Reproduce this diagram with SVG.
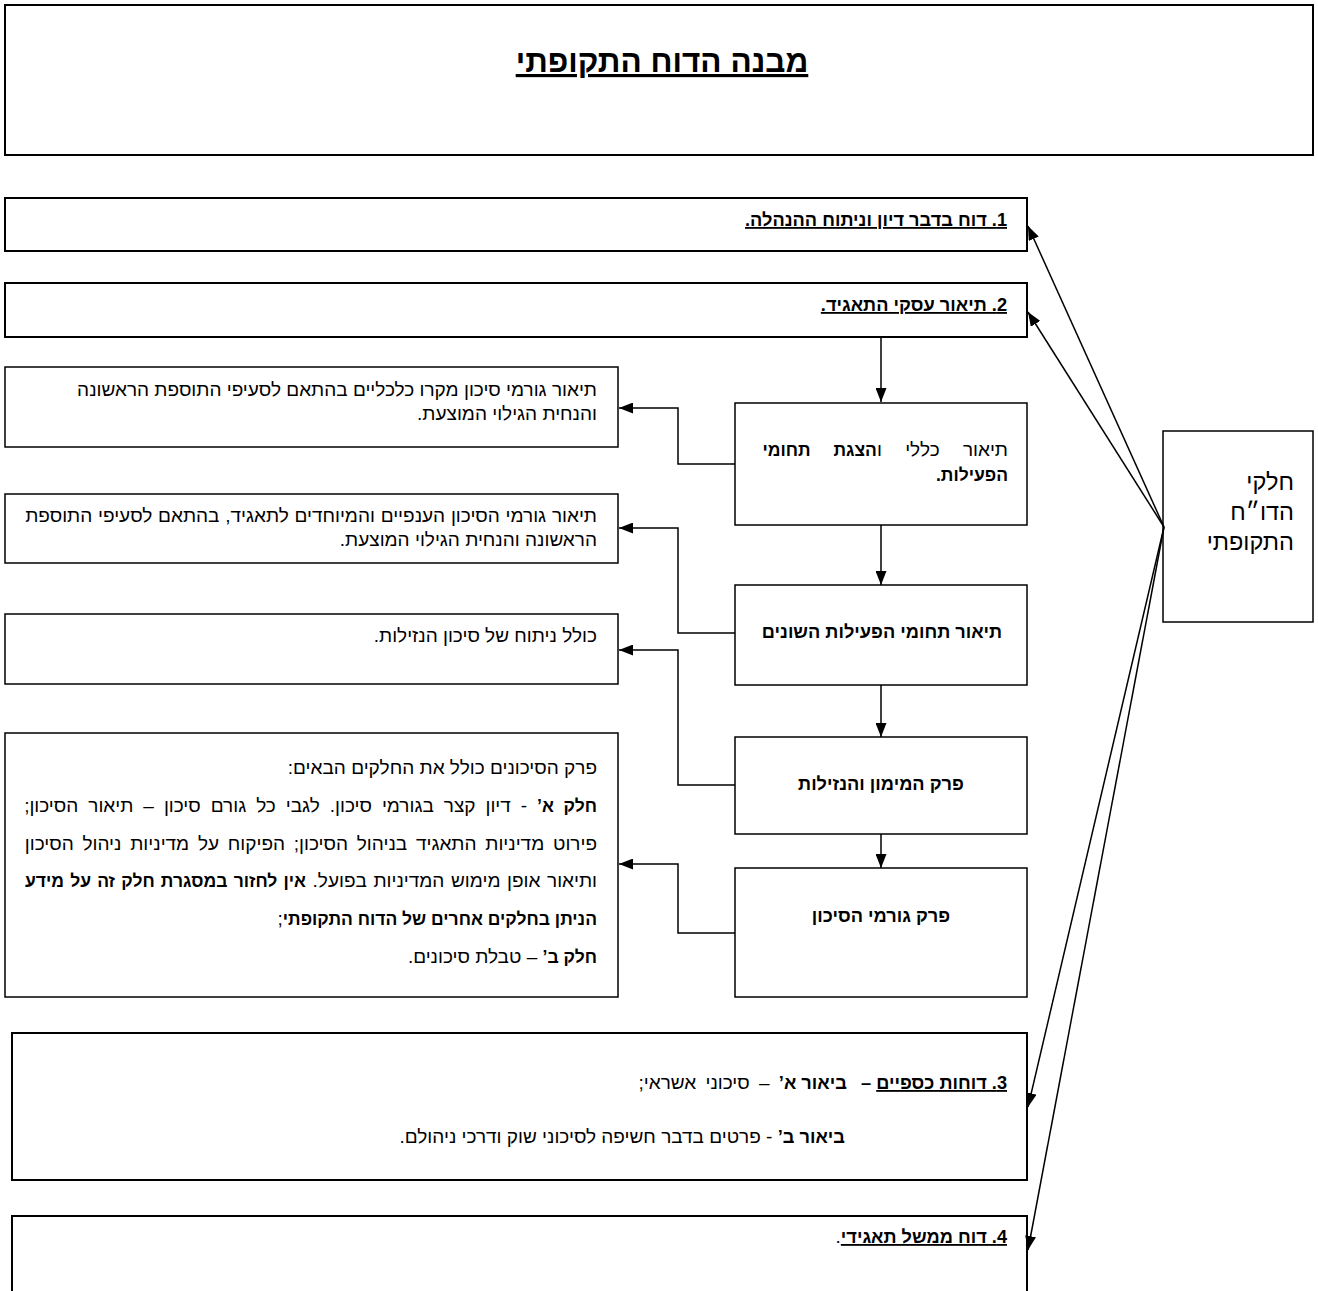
<svg xmlns="http://www.w3.org/2000/svg" width="1318" height="1291" viewBox="0 0 1318 1291">
<defs>
<marker id="ah" markerUnits="userSpaceOnUse" viewBox="0 0 14 11" refX="14" refY="5.5" markerWidth="14" markerHeight="11" orient="auto"><path d="M0,0 L14,5.5 L0,11 z" fill="#000"/></marker>
<style>
.main{fill:#fff;stroke:#000;stroke-width:2}
.box{fill:#fff;stroke:#000;stroke-width:1.5}
text{font-family:"Liberation Sans","DejaVu Sans",sans-serif;font-size:19px;fill:#000;direction:rtl}
.b{font-weight:bold;font-size:17.5px}
.u{text-decoration:underline}
.h{font-weight:bold;font-size:18.2px}
.c{fill:none;stroke:#000;stroke-width:1.5;marker-end:url(#ah)}
</style>
</defs>
<rect width="1318" height="1291" fill="#fff"/>

<g id="title">
<rect class="main" x="5" y="5" width="1308" height="150"/>
<text x="662" y="72" text-anchor="middle" class="h u" style="font-size:31.5px">מבנה הדוח התקופתי</text>
</g>

<g id="part1">
<rect class="main" x="5" y="198" width="1022" height="53"/>
<text x="1007" y="226" class="h u">1. דוח בדבר דיון וניתוח ההנהלה.</text>
</g>

<g id="part2">
<rect class="main" x="5" y="283" width="1022" height="54"/>
<text x="1007" y="311" class="h u">2.  תיאור עסקי התאגיד.</text>
</g>

<g id="general">
<rect class="box" x="735" y="403" width="292" height="122"/>
<text x="1008" y="456" style="word-spacing:18px">תיאור כללי ו<tspan class="b">הצגת תחומי</tspan></text>
<text x="1008" y="481" class="b">הפעילות.</text>
</g>

<g id="areas">
<rect class="box" x="735" y="585" width="292" height="100"/>
<text x="882" y="638" text-anchor="middle" class="h">תיאור תחומי הפעילות השונים</text>
</g>

<g id="finance">
<rect class="box" x="735" y="737" width="292" height="97"/>
<text x="881" y="790" text-anchor="middle" class="h">פרק המימון והנזילות</text>
</g>

<g id="risk">
<rect class="box" x="735" y="868" width="292" height="129"/>
<text x="881" y="922" text-anchor="middle" class="h">פרק גורמי הסיכון</text>
</g>

<g id="macro">
<rect class="box" x="5" y="367" width="613" height="80"/>
<text x="597" y="396">תיאור גורמי סיכון מקרו כלכליים בהתאם לסעיפי התוספת הראשונה</text>
<text x="597" y="420">והנחית הגילוי המוצעת.</text>
</g>

<g id="sector">
<rect class="box" x="5" y="494" width="613" height="69"/>
<text x="597" y="522" style="word-spacing:0.5px">תיאור גורמי הסיכון הענפיים והמיוחדים לתאגיד, בהתאם לסעיפי התוספת</text>
<text x="597" y="546">הראשונה והנחית הגילוי המוצעת.</text>
</g>

<g id="liquidity">
<rect class="box" x="5" y="614" width="613" height="70"/>
<text x="597" y="642">כולל ניתוח של סיכון הנזילות.</text>
</g>

<g id="riskchapter">
<rect class="box" x="5" y="733" width="613" height="264"/>
<text x="597" y="774">פרק הסיכונים כולל את החלקים הבאים:</text>
<text x="597" y="812" style="word-spacing:4.7px"><tspan class="b">חלק א’</tspan> - דיון קצר בגורמי סיכון. לגבי כל גורם סיכון – תיאור הסיכון;</text>
<text x="597" y="850" style="word-spacing:3.5px">פירוט מדיניות התאגיד בניהול הסיכון; הפיקוח על מדיניות ניהול הסיכון</text>
<text x="597" y="887" style="word-spacing:1.3px">ותיאור אופן מימוש המדיניות בפועל. <tspan class="b">אין לחזור במסגרת חלק זה על מידע</tspan></text>
<text x="597" y="925"><tspan class="b">הניתן בחלקים אחרים של הדוח התקופתי</tspan>;</text>
<text x="597" y="963"><tspan class="b">חלק ב’</tspan> – טבלת סיכונים.</text>
</g>

<g id="parts">
<rect class="box" x="1163" y="431" width="150" height="191"/>
<text x="1294" y="490" style="font-size:23.5px">חלקי</text>
<text x="1294" y="520" style="font-size:23.5px">הדו״ח</text>
<text x="1294" y="550" style="font-size:23.5px">התקופתי</text>
</g>

<g id="part3">
<rect class="main" x="12" y="1033" width="1015" height="147"/>
<text x="1007" y="1089"><tspan class="h u">3. דוחות כספיים</tspan><tspan class="h"> – &#x2002;ביאור א’</tspan><tspan style="word-spacing:4px"> – סיכוני אשראי;</tspan></text>
<text x="845" y="1143"><tspan class="h">ביאור ב’</tspan> - פרטים בדבר חשיפה לסיכוני שוק ודרכי ניהולם.</text>
</g>

<g id="part4">
<rect class="main" x="12" y="1216" width="1015" height="90"/>
<text x="1007" y="1243"><tspan class="h u">4. דוח ממשל תאגידי</tspan>.</text>
</g>

<g id="connectors">
<path class="c" d="M881,338 V402"/>
<path class="c" d="M881,525 V585"/>
<path class="c" d="M881,685 V737"/>
<path class="c" d="M881,834 V868"/>
<path class="c" d="M735,464 H678 V408 H619"/>
<path class="c" d="M735,633 H678 V528 H619"/>
<path class="c" d="M735,785 H678 V650 H619"/>
<path class="c" d="M735,933 H678 V864 H619"/>
<path class="c" d="M1164,527 L1028,226"/>
<path class="c" d="M1164,527 L1028,312"/>
<path class="c" d="M1164,527 L1028,1107"/>
<path class="c" d="M1164,527 L1028,1250"/>
</g>
</svg>
